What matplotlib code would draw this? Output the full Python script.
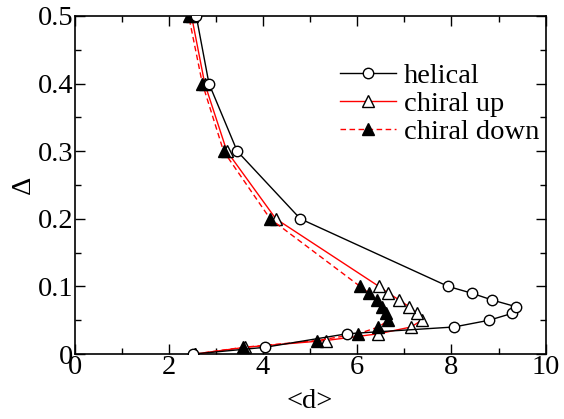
import matplotlib.pyplot as plt

plt.rcParams['font.family'] = ['Liberation Serif', 'DejaVu Serif']

# data
helical_d = [2.52, 4.04, 5.78, 8.05, 8.80, 9.28, 9.37, 8.86, 8.43, 7.93, 4.79, 3.45, 2.85, 2.58]
helical_delta = [0.0, 0.01, 0.03, 0.04, 0.05, 0.06, 0.07, 0.08, 0.09, 0.10, 0.20, 0.30, 0.40, 0.50]

up_d = [2.55, 3.62, 5.33, 6.45, 7.14, 7.37, 7.27, 7.10, 6.89, 6.66, 6.46, 4.27, 3.23, 2.76, 2.48]
up_delta = [0.0, 0.01, 0.02, 0.03, 0.04, 0.05, 0.06, 0.07, 0.08, 0.09, 0.10, 0.20, 0.30, 0.40, 0.50]

down_d = [2.55, 3.58, 5.15, 6.02, 6.45, 6.66, 6.62, 6.52, 6.41, 6.25, 6.06, 4.15, 3.16, 2.71, 2.42]
down_delta = [0.0, 0.01, 0.02, 0.03, 0.04, 0.05, 0.06, 0.07, 0.08, 0.09, 0.10, 0.20, 0.30, 0.40, 0.50]

x_ticks = [0, 2, 4, 6, 8, 10]
x_labels = ['0', '2', '4', '6', '8', '10']
y_ticks = [0, 0.1, 0.2, 0.3, 0.4, 0.5]
y_labels = ['0', '0.1', '0.2', '0.3', '0.4', '0.5']

fs = 20.5

fig = plt.figure(figsize=(5.64, 4.19), dpi=100)
ax = fig.add_axes([0.1325, 0.155, 0.835, 0.807])

ax.plot(helical_d, helical_delta, color='black', lw=1.0, marker='o', ms=7.5,
        mfc='white', mec='black', mew=1.0, label='helical', zorder=5)
ax.plot(up_d, up_delta, color='red', lw=1.0, marker='^', ms=8,
        mfc='white', mec='black', mew=1.0, label='chiral up', zorder=3)
ax.plot(down_d, down_delta, color='red', lw=1.0, ls=(0, (4, 2.5)), marker='^', ms=8,
        mfc='black', mec='black', mew=1.0, label='chiral down', zorder=4)

ax.set_xlim(0, 10)
ax.set_ylim(0, 0.5)
ax.set_xticks(x_ticks)
ax.set_xticklabels(x_labels)
ax.set_xticks([1, 3, 5, 7, 9], minor=True)
ax.set_yticks(y_ticks)
ax.set_yticklabels(y_labels)
ax.set_yticks([0.05, 0.15, 0.25, 0.35, 0.45], minor=True)
ax.tick_params(which='both', direction='in', top=True, right=True, labelsize=fs, width=1.0)
ax.tick_params(which='major', length=7, pad=1)
ax.tick_params(which='minor', length=4)
for s in ax.spines.values():
    s.set_linewidth(1.2)

ax.set_xlabel('<d>', fontsize=fs, labelpad=6)
ax.set_ylabel('Δ', fontsize=fs, labelpad=1)

ax.legend(loc='upper right', bbox_to_anchor=(1.01, 0.895), frameon=False, fontsize=fs,
          handlelength=2.0, handletextpad=0.25, labelspacing=0.07, borderaxespad=0.0)

fig.savefig('out.png', dpi=100)
